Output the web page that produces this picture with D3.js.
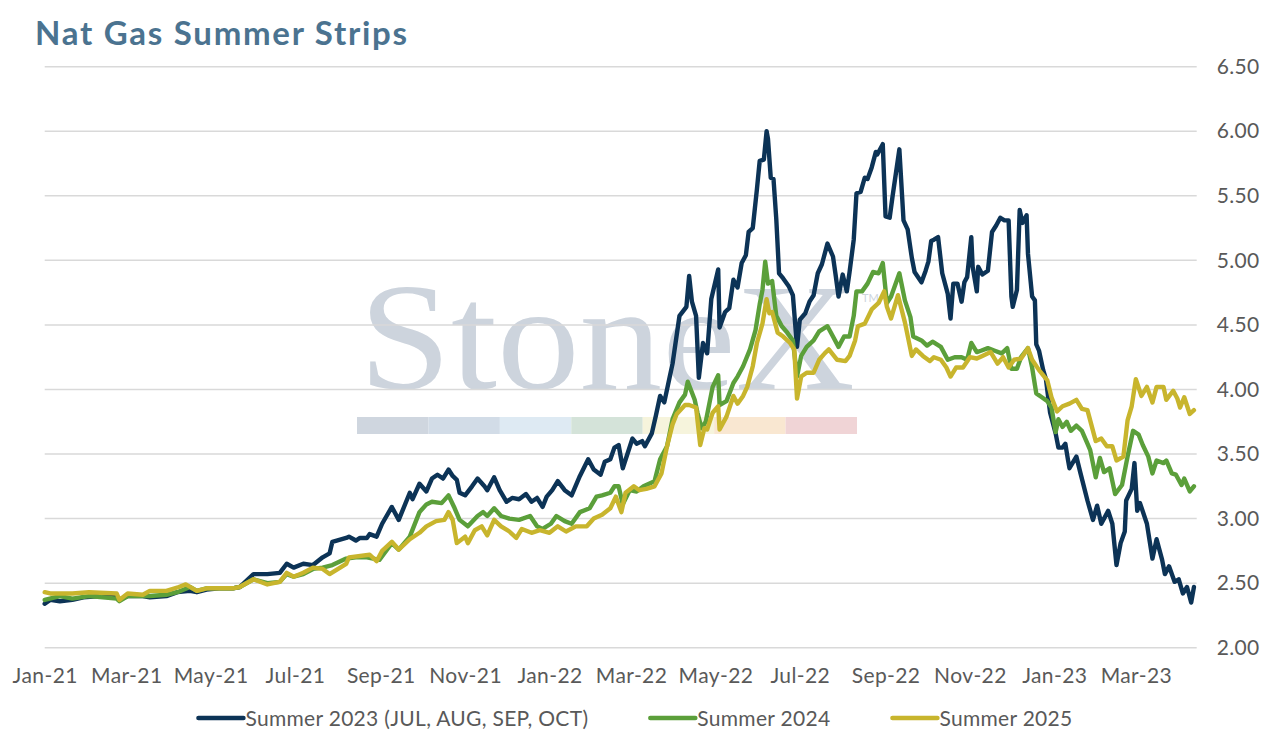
<!DOCTYPE html>
<html>
<head>
<meta charset="utf-8">
<script src="https://cdn.jsdelivr.net/npm/d3@7"></script>
<style>
  body { margin: 0; background: #fff; }
  svg { display: block; font-family: Lato, "Noto Sans", sans-serif; }
</style>
</head>
<body>
<svg id="chart" width="1269" height="737"></svg>
<script>
// values ($/MMBtu strip prices)
const chartTitle = 'Nat Gas Summer Strips';
const seriesNames = ['Summer 2023 (JUL, AUG, SEP, OCT)', 'Summer 2024', 'Summer 2025'];
const seriesColors = ['#0c3356', '#5b9f3a', '#c8b52d'];

const s23Dates = ['2021-01-01','2021-01-05','2021-01-12','2021-01-21','2021-01-29','2021-02-10','2021-02-22','2021-02-24','2021-03-02','2021-03-13','2021-03-18','2021-03-30','2021-04-07','2021-04-16','2021-04-21','2021-04-28','2021-05-07','2021-05-17','2021-05-22','2021-06-01','2021-06-11','2021-06-20','2021-06-25','2021-06-30','2021-07-07','2021-07-14','2021-07-21','2021-07-26','2021-07-28','2021-08-07','2021-08-09','2021-08-14','2021-08-17','2021-08-22','2021-08-24','2021-08-29','2021-09-02','2021-09-09','2021-09-14','2021-09-22','2021-09-24','2021-09-29','2021-10-04','2021-10-08','2021-10-12','2021-10-16','2021-10-20','2021-10-23','2021-10-26','2021-10-28','2021-11-01','2021-11-06','2021-11-10','2021-11-15','2021-11-17','2021-11-22','2021-11-26','2021-12-01','2021-12-05','2021-12-10','2021-12-15','2021-12-19','2021-12-23','2021-12-27','2021-12-30','2022-01-03','2022-01-07','2022-01-12','2022-01-17','2022-01-23','2022-01-29','2022-02-02','2022-02-07','2022-02-10','2022-02-14','2022-02-17','2022-02-20','2022-02-23','2022-03-02','2022-03-05','2022-03-09','2022-03-11','2022-03-16','2022-03-19','2022-03-22','2022-03-25','2022-03-29','2022-03-31','2022-04-05','2022-04-10','2022-04-12','2022-04-14','2022-04-17','2022-04-19','2022-04-22','2022-04-25','2022-04-28','2022-05-03','2022-05-04','2022-05-08','2022-05-11','2022-05-14','2022-05-17','2022-05-20','2022-05-23','2022-05-25','2022-05-28','2022-05-31','2022-06-02','2022-06-05','2022-06-07','2022-06-08','2022-06-10','2022-06-12','2022-06-14','2022-06-16','2022-06-19','2022-06-23','2022-06-26','2022-06-29','2022-07-01','2022-07-05','2022-07-08','2022-07-11','2022-07-14','2022-07-17','2022-07-21','2022-07-25','2022-07-27','2022-07-29','2022-08-01','2022-08-04','2022-08-06','2022-08-09','2022-08-11','2022-08-14','2022-08-17','2022-08-19','2022-08-22','2022-08-25','2022-08-26','2022-08-30','2022-09-01','2022-09-04','2022-09-06','2022-09-11','2022-09-14','2022-09-17','2022-09-20','2022-09-22','2022-09-27','2022-09-30','2022-10-02','2022-10-04','2022-10-06','2022-10-09','2022-10-12','2022-10-16','2022-10-18','2022-10-20','2022-10-23','2022-10-26','2022-10-28','2022-10-30','2022-11-02','2022-11-03','2022-11-06','2022-11-07','2022-11-10','2022-11-14','2022-11-17','2022-11-20','2022-11-23','2022-11-26','2022-11-29','2022-12-01','2022-12-02','2022-12-05','2022-12-07','2022-12-09','2022-12-12','2022-12-13','2022-12-16','2022-12-18','2022-12-19','2022-12-21','2022-12-24','2022-12-26','2022-12-29','2023-01-02','2023-01-04','2023-01-07','2023-01-09','2023-01-11','2023-01-12','2023-01-17','2023-01-20','2023-01-25','2023-01-29','2023-02-01','2023-02-04','2023-02-09','2023-02-12','2023-02-15','2023-02-18','2023-02-21','2023-02-22','2023-02-26','2023-02-28','2023-03-02','2023-03-04','2023-03-09','2023-03-13','2023-03-16','2023-03-20','2023-03-22','2023-03-25','2023-03-29','2023-04-01','2023-04-04','2023-04-07','2023-04-10','2023-04-12'];
const s23Values = [2.34,2.37,2.36,2.37,2.39,2.40,2.39,2.37,2.40,2.40,2.39,2.40,2.43,2.44,2.43,2.45,2.46,2.46,2.47,2.57,2.57,2.58,2.65,2.62,2.65,2.64,2.70,2.73,2.82,2.85,2.86,2.83,2.85,2.85,2.88,2.86,2.96,3.09,2.99,3.20,3.15,3.27,3.21,3.31,3.34,3.31,3.38,3.33,3.30,3.20,3.18,3.25,3.31,3.25,3.22,3.32,3.22,3.13,3.16,3.15,3.19,3.13,3.16,3.09,3.17,3.22,3.29,3.22,3.18,3.33,3.46,3.38,3.34,3.44,3.46,3.55,3.57,3.39,3.62,3.58,3.60,3.56,3.66,3.80,3.95,3.90,4.10,4.20,4.57,4.64,4.88,4.68,4.57,4.09,4.36,4.28,4.70,4.93,4.48,4.60,4.63,4.85,4.79,4.98,5.04,5.22,5.25,5.55,5.77,5.78,6.00,5.94,5.64,5.63,5.32,4.90,4.86,4.80,4.73,4.33,4.54,4.59,4.68,4.73,4.90,4.97,5.13,5.03,4.88,4.72,4.89,4.76,4.91,5.16,5.52,5.53,5.64,5.63,5.72,5.84,5.82,5.90,5.34,5.33,5.49,5.86,5.31,5.24,5.02,4.91,4.83,4.92,4.99,5.15,5.16,5.18,4.90,4.74,4.55,4.82,4.82,4.68,4.83,4.87,5.18,4.95,4.76,4.95,4.89,4.92,5.22,5.27,5.33,5.31,5.31,4.72,4.64,4.77,5.39,5.29,5.35,5.05,4.72,4.69,4.35,4.30,4.15,4.08,3.82,3.66,3.55,3.55,3.58,3.45,3.39,3.48,3.35,3.14,2.99,3.10,2.96,3.06,2.96,2.64,2.81,2.90,3.14,3.23,3.43,3.06,3.12,2.96,2.69,2.84,2.68,2.57,2.63,2.51,2.53,2.42,2.47,2.35,2.47];

const s24Dates = ['2021-01-01','2021-01-12','2021-01-21','2021-02-02','2021-02-22','2021-02-24','2021-03-02','2021-03-18','2021-03-30','2021-04-07','2021-04-16','2021-04-21','2021-04-28','2021-05-17','2021-05-22','2021-06-01','2021-06-11','2021-06-20','2021-06-25','2021-06-30','2021-07-07','2021-07-14','2021-07-21','2021-07-28','2021-08-07','2021-08-14','2021-08-22','2021-08-31','2021-09-09','2021-09-14','2021-09-22','2021-09-29','2021-10-04','2021-10-08','2021-10-15','2021-10-20','2021-10-24','2021-10-28','2021-11-03','2021-11-10','2021-11-14','2021-11-17','2021-11-22','2021-11-27','2021-12-03','2021-12-10','2021-12-18','2021-12-23','2021-12-27','2022-01-02','2022-01-06','2022-01-12','2022-01-17','2022-01-23','2022-01-30','2022-02-04','2022-02-08','2022-02-14','2022-02-17','2022-02-20','2022-02-23','2022-02-28','2022-03-05','2022-03-10','2022-03-14','2022-03-18','2022-03-22','2022-03-27','2022-03-31','2022-04-05','2022-04-09','2022-04-11','2022-04-16','2022-04-18','2022-04-21','2022-04-24','2022-04-29','2022-05-03','2022-05-04','2022-05-09','2022-05-14','2022-05-17','2022-05-21','2022-05-26','2022-05-30','2022-06-02','2022-06-04','2022-06-06','2022-06-08','2022-06-11','2022-06-14','2022-06-18','2022-06-22','2022-06-26','2022-06-29','2022-07-02','2022-07-06','2022-07-11','2022-07-15','2022-07-21','2022-07-25','2022-07-29','2022-08-02','2022-08-06','2022-08-09','2022-08-11','2022-08-15','2022-08-19','2022-08-23','2022-08-27','2022-08-30','2022-09-02','2022-09-05','2022-09-11','2022-09-15','2022-09-19','2022-09-21','2022-09-27','2022-10-01','2022-10-05','2022-10-11','2022-10-16','2022-10-21','2022-10-26','2022-10-30','2022-11-02','2022-11-06','2022-11-09','2022-11-14','2022-11-19','2022-11-24','2022-11-28','2022-12-01','2022-12-05','2022-12-08','2022-12-13','2022-12-16','2022-12-19','2022-12-23','2022-12-27','2022-12-30','2023-01-02','2023-01-04','2023-01-07','2023-01-10','2023-01-13','2023-01-17','2023-01-21','2023-01-25','2023-01-27','2023-01-31','2023-02-03','2023-02-06','2023-02-10','2023-02-14','2023-02-19','2023-02-23','2023-02-27','2023-03-03','2023-03-06','2023-03-10','2023-03-13','2023-03-16','2023-03-21','2023-03-23','2023-03-27','2023-03-30','2023-04-03','2023-04-05','2023-04-09','2023-04-12'];
const s24Values = [2.37,2.40,2.38,2.40,2.38,2.36,2.40,2.40,2.41,2.43,2.47,2.44,2.46,2.46,2.47,2.53,2.50,2.51,2.57,2.55,2.57,2.61,2.62,2.64,2.69,2.70,2.70,2.68,2.81,2.76,2.86,3.05,3.11,3.13,3.12,3.18,3.09,2.99,2.94,3.02,3.05,3.02,3.08,3.02,3.00,2.99,3.02,2.94,2.92,2.96,3.02,2.98,2.96,3.05,3.08,3.17,3.18,3.20,3.25,3.25,3.11,3.22,3.21,3.25,3.27,3.29,3.46,3.56,3.77,3.90,3.96,4.06,3.92,3.82,3.70,3.75,4.02,4.11,3.88,3.91,4.05,4.10,4.18,4.31,4.46,4.66,4.77,4.99,4.82,4.84,4.57,4.49,4.44,4.38,4.10,4.26,4.33,4.38,4.45,4.49,4.41,4.33,4.41,4.41,4.57,4.76,4.76,4.82,4.91,4.90,4.98,4.67,4.72,4.90,4.69,4.56,4.41,4.38,4.34,4.37,4.33,4.23,4.25,4.25,4.23,4.36,4.29,4.30,4.32,4.30,4.28,4.32,4.16,4.16,4.25,4.32,4.17,3.97,3.94,3.91,3.86,3.67,3.77,3.71,3.75,3.68,3.72,3.68,3.58,3.53,3.32,3.47,3.36,3.39,3.19,3.26,3.48,3.68,3.65,3.57,3.48,3.35,3.45,3.43,3.45,3.35,3.34,3.26,3.31,3.21,3.25];

const s25Dates = ['2021-01-01','2021-01-05','2021-01-21','2021-02-02','2021-02-22','2021-02-24','2021-03-02','2021-03-13','2021-03-18','2021-03-30','2021-04-08','2021-04-13','2021-04-21','2021-04-28','2021-05-17','2021-05-22','2021-06-01','2021-06-11','2021-06-20','2021-06-25','2021-06-30','2021-07-07','2021-07-14','2021-07-21','2021-07-26','2021-08-07','2021-08-09','2021-08-24','2021-08-29','2021-09-02','2021-09-09','2021-09-14','2021-09-22','2021-09-29','2021-10-04','2021-10-11','2021-10-17','2021-10-20','2021-10-23','2021-10-26','2021-11-01','2021-11-03','2021-11-08','2021-11-13','2021-11-17','2021-11-22','2021-11-27','2021-12-03','2021-12-08','2021-12-12','2021-12-19','2021-12-25','2022-01-01','2022-01-07','2022-01-13','2022-01-20','2022-01-28','2022-02-02','2022-02-08','2022-02-14','2022-02-18','2022-02-22','2022-02-25','2022-03-03','2022-03-07','2022-03-12','2022-03-18','2022-03-23','2022-03-27','2022-03-31','2022-04-03','2022-04-09','2022-04-12','2022-04-17','2022-04-20','2022-04-23','2022-04-25','2022-04-29','2022-05-03','2022-05-04','2022-05-09','2022-05-14','2022-05-17','2022-05-21','2022-05-24','2022-05-28','2022-05-31','2022-06-04','2022-06-07','2022-06-09','2022-06-11','2022-06-15','2022-06-19','2022-06-24','2022-06-27','2022-06-29','2022-07-02','2022-07-06','2022-07-11','2022-07-15','2022-07-19','2022-07-22','2022-07-28','2022-08-03','2022-08-06','2022-08-10','2022-08-12','2022-08-17','2022-08-22','2022-08-27','2022-08-31','2022-09-02','2022-09-05','2022-09-10','2022-09-15','2022-09-20','2022-09-23','2022-09-28','2022-10-03','2022-10-06','2022-10-11','2022-10-15','2022-10-18','2022-10-22','2022-10-27','2022-11-01','2022-11-06','2022-11-10','2022-11-16','2022-11-21','2022-11-25','2022-11-29','2022-12-03','2022-12-08','2022-12-13','2022-12-16','2022-12-21','2022-12-27','2022-12-30','2023-01-03','2023-01-07','2023-01-12','2023-01-17','2023-01-21','2023-01-25','2023-01-31','2023-02-04','2023-02-08','2023-02-12','2023-02-15','2023-02-20','2023-02-23','2023-02-26','2023-03-01','2023-03-05','2023-03-09','2023-03-13','2023-03-16','2023-03-21','2023-03-23','2023-03-28','2023-03-31','2023-04-02','2023-04-05','2023-04-09','2023-04-12'];
const s25Values = [2.43,2.42,2.42,2.43,2.42,2.37,2.42,2.41,2.44,2.44,2.47,2.49,2.44,2.46,2.46,2.47,2.53,2.49,2.51,2.58,2.55,2.58,2.62,2.61,2.57,2.65,2.70,2.72,2.67,2.75,2.82,2.76,2.84,2.89,2.94,2.98,2.99,3.05,2.99,2.81,2.86,2.81,2.91,2.94,2.87,2.99,2.94,2.90,2.85,2.92,2.89,2.91,2.89,2.94,2.90,2.94,2.94,3.00,3.03,3.08,3.17,3.05,3.20,3.25,3.22,3.23,3.25,3.35,3.56,3.73,3.81,3.88,3.88,3.86,3.57,3.70,3.69,3.82,3.87,3.69,3.79,3.95,3.89,3.95,4.02,4.18,4.36,4.51,4.70,4.59,4.60,4.44,4.41,4.36,4.31,3.93,4.10,4.13,4.13,4.23,4.28,4.31,4.23,4.22,4.26,4.38,4.49,4.51,4.62,4.67,4.76,4.64,4.55,4.73,4.52,4.26,4.31,4.26,4.22,4.25,4.23,4.17,4.10,4.17,4.17,4.25,4.24,4.26,4.29,4.20,4.25,4.17,4.23,4.24,4.32,4.23,4.15,4.07,3.94,3.83,3.87,3.89,3.92,3.85,3.84,3.60,3.62,3.56,3.56,3.45,3.48,3.76,3.87,4.08,3.95,4.02,3.90,4.02,4.02,3.92,3.99,3.93,3.86,3.94,3.81,3.84];

const yTickValues = [2.0, 2.5, 3.0, 3.5, 4.0, 4.5, 5.0, 5.5, 6.0, 6.5];
const axisStart = '2021-01-01';
const axisEnd = '2023-04-14';
const watermarkText = 'StoneX';
const watermarkBand = ['#cfd6df', '#d2dce7', '#deeaf3', '#d4e3d9', '#f6f4dc', '#f9e7d1', '#f0d4d6'];

const svg = d3.select('#chart');
const parse = d3.timeParse('%Y-%m-%d');

const plot = { left: 44.7, right: 1196.7, top: 66.7, bottom: 647.7 };
const labelFont = 21;

const x = d3.scaleTime()
  .domain([parse(axisStart), parse(axisEnd)])
  .range([plot.left, plot.right]);

const y = d3.scaleLinear()
  .domain([2, 6.5])
  .range([plot.bottom, plot.top]);

// title
svg.append('text')
  .attr('x', 35)
  .attr('y', 45)
  .attr('font-size', 33)
  .attr('font-weight', 700)
  .attr('fill', '#4b7390')
  .attr('textLength', 372)
  .attr('lengthAdjust', 'spacing')
  .text(chartTitle);

// watermark
const wm = svg.append('g').attr('class', 'watermark');
wm.append('text')
  .attr('x', 359)
  .attr('y', 389)
  .attr('font-family', '"Liberation Serif", "DejaVu Serif", serif')
  .attr('font-size', 152)
  .attr('textLength', 496)
  .attr('lengthAdjust', 'spacingAndGlyphs')
  .attr('fill', '#cdd4dd')
  .text(watermarkText);
wm.append('text')
  .attr('x', 862)
  .attr('y', 302)
  .attr('font-size', 11)
  .attr('fill', '#cdd4dd')
  .text('TM');
const bandX = d3.scaleBand().domain(d3.range(watermarkBand.length)).range([357, 857]);
wm.selectAll('rect')
  .data(watermarkBand)
  .join('rect')
  .attr('x', (d, i) => bandX(i))
  .attr('y', 417)
  .attr('width', bandX.bandwidth())
  .attr('height', 17)
  .attr('fill', d => d);

// gridlines
svg.append('g')
  .selectAll('line')
  .data(yTickValues)
  .join('line')
  .attr('x1', plot.left)
  .attr('x2', plot.right)
  .attr('y1', d => y(d))
  .attr('y2', d => y(d))
  .attr('stroke', '#d9d9d9')
  .attr('stroke-width', 1.5);

// y axis on the right
const yAxis = svg.append('g')
  .attr('transform', `translate(${plot.right},0)`)
  .call(d3.axisRight(y).tickValues(yTickValues).tickFormat(d3.format('.2f')).tickSize(0).tickPadding(20));
yAxis.select('.domain').remove();
yAxis.selectAll('text')
  .attr('font-family', 'Lato, sans-serif')
  .attr('font-size', labelFont)
  .attr('letter-spacing', 0.3)
  .attr('fill', '#595959');

// x axis
const xAxis = svg.append('g')
  .attr('transform', `translate(0,${plot.bottom})`)
  .call(d3.axisBottom(x).ticks(d3.timeMonth.every(2)).tickFormat(d3.timeFormat('%b-%y')).tickSize(0).tickPadding(20.5));
xAxis.select('.domain').remove();
xAxis.selectAll('text')
  .attr('font-family', 'Lato, sans-serif')
  .attr('font-size', labelFont)
  .attr('letter-spacing', 0.4)
  .attr('fill', '#595959');

// series lines
const series = [
  { name: seriesNames[0], color: seriesColors[0], dates: s23Dates, values: s23Values },
  { name: seriesNames[1], color: seriesColors[1], dates: s24Dates, values: s24Values },
  { name: seriesNames[2], color: seriesColors[2], dates: s25Dates, values: s25Values }
];

const line = d3.line()
  .x(d => x(d.date))
  .y(d => y(d.value));

series.forEach(s => {
  const pts = s.dates.map((d, i) => ({ date: parse(d), value: s.values[i] }));
  svg.append('path')
    .datum(pts)
    .attr('fill', 'none')
    .attr('stroke', s.color)
    .attr('stroke-width', 4.4)
    .attr('stroke-linejoin', 'round')
    .attr('stroke-linecap', 'round')
    .attr('d', line);
});

// legend, centred under the plot
const legend = svg.append('g').attr('class', 'legend');
const itemGap = 62, swatch = 45;
let cursor = 0;
series.forEach(s => {
  const g = legend.append('g').attr('transform', `translate(${cursor},0)`);
  g.append('line')
    .attr('x1', 0).attr('x2', swatch)
    .attr('y1', 0).attr('y2', 0)
    .attr('stroke', s.color)
    .attr('stroke-width', 4.5)
    .attr('stroke-linecap', 'round');
  const t = g.append('text')
    .attr('x', swatch + 2)
    .attr('y', 7.5)
    .attr('font-size', labelFont)
    .attr('letter-spacing', 0.3)
    .attr('fill', '#595959')
    .text(s.name);
  cursor += swatch + 2 + t.node().getComputedTextLength() + itemGap;
});
const legendWidth = cursor - itemGap;
legend.attr('transform', `translate(${(1269 - legendWidth) / 2 + 1},718)`);
</script>
</body>
</html>
